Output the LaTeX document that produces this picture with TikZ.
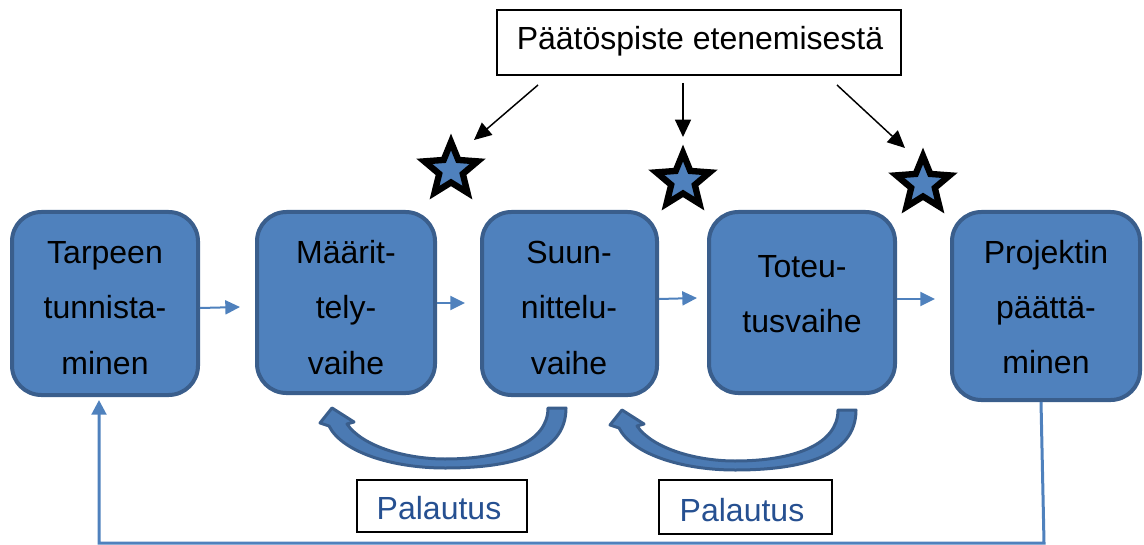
\documentclass[tikz,border=0pt]{standalone}
\usepackage{fontspec}
\setmainfont{Liberation Sans}
\usetikzlibrary{arrows.meta,shapes.geometric}
\definecolor{boxfill}{RGB}{79,129,189}
\definecolor{boxline}{RGB}{58,94,140}
\definecolor{paltext}{RGB}{38,80,145}
\begin{document}
\begin{tikzpicture}[x=0.75pt,y=-0.75pt,
  phase/.style={rectangle,draw=boxline,fill=boxfill,line width=3pt,rounded corners=22pt,inner sep=0pt},
  lbl/.style={font=\fontsize{24}{28}\selectfont,anchor=base,inner sep=0pt},
  pal/.style={lbl,text=paltext},
  flow/.style={draw=boxfill,line width=1.5pt,-{Triangle[length=11pt,width=10.5pt]}},
  pick/.style={draw=black,line width=1.1pt,-{Triangle[length=13pt,width=12pt]}},
  milestone/.style={star,star points=5,star point ratio=2.25,minimum size=42pt,inner sep=0pt,draw=black,line width=4.75pt,miter limit=3,fill=boxfill},
  note/.style={rectangle,draw=black,line width=0.9pt,fill=white,inner sep=0pt},
  backarrow/.style={fill=boxfill!80!boxline,draw=boxline,line width=2.25pt,line join=round},
  feedback/.style={draw=boxfill,line width=2.25pt,-{Triangle[length=11pt,width=11pt]}}]

\useasboundingbox (0,0) rectangle (1144,545);

% phase boxes
\node[phase,minimum width=139.5pt,minimum height=137.25pt] (b1) at (105,303.5) {};
\node[phase,minimum width=133.5pt,minimum height=135.75pt] (b2) at (346,302.5) {};
\node[phase,minimum width=131.25pt,minimum height=137.25pt] (b3) at (569.5,303.5) {};
\node[phase,minimum width=139.5pt,minimum height=135.75pt] (b4) at (802,302.5) {};
\node[phase,minimum width=141pt,minimum height=141pt] (b5) at (1046,306) {};

% phase texts
\node[lbl] (t1a) at (105,263) {Tarpeen};
\node[lbl] (t1b) at (105,318) {tunnista-};
\node[lbl] (t1c) at (105,374) {minen};
\node[lbl] (t2a) at (346,263) {Määrit-};
\node[lbl] (t2b) at (346,318) {tely-};
\node[lbl] (t2c) at (346,374) {vaihe};
\node[lbl] (t3a) at (569,263) {Suun-};
\node[lbl] (t3b) at (569,318) {nittelu-};
\node[lbl] (t3c) at (569,374) {vaihe};
\node[lbl] (t4a) at (802,277) {Toteu-};
\node[lbl] (t4b) at (802,332) {tusvaihe};
\node[lbl] (t5a) at (1046,263) {Projektin};
\node[lbl] (t5b) at (1046,318) {päättä-};
\node[lbl] (t5c) at (1046,373) {minen};

% forward arrows
\coordinate (f1) at (240,307);
\coordinate (f2) at (465,303);
\coordinate (f3) at (697,298);
\coordinate (f4) at (935,299);
\draw[flow] (b1.east |- 0,308) -- (f1);
\draw[flow] (b2.east |- f2) -- (f2);
\draw[flow] (b3.east |- 0,299) -- (f3);
\draw[flow] (b4.east |- f4) -- (f4);

% decision point box
\node[note,minimum width=303pt,minimum height=48.75pt] (top) at (699,42.5) {};
\node[lbl] (toptxt) at (700,50) {Päätöspiste etenemisestä};

% stars
\node[milestone] (s1) at (451,170) {};
\node[milestone] (s2) at (683,181) {};
\node[milestone] (s3) at (923,184) {};

% black arrows
\coordinate (a1s) at (538,85);
\coordinate (a1e) at (474,140);
\coordinate (a2s) at (683,83);
\coordinate (a2e) at (683,137);
\coordinate (a3s) at (837,85);
\coordinate (a3e) at (905,148);
\draw[pick] (a1s) -- (a1e);
\draw[pick] (a2s) -- (a2e);
\draw[pick] (a3s) -- (a3e);

% curved return arrows
\filldraw[backarrow] (566,408) .. controls (566,455) and (510,468) .. (445,468)
  .. controls (392,468) and (342,452) .. (329,426) -- (320,423) -- (332,408) -- (354,422) -- (347,424)
  .. controls (362,446) and (405,459) .. (445,459)
  .. controls (505,459) and (548,442) .. (548,408) -- cycle;
\filldraw[backarrow,shift={(290,2)}] (566,408) .. controls (566,455) and (510,468) .. (445,468)
  .. controls (392,468) and (342,452) .. (329,426) -- (320,423) -- (332,408) -- (354,422) -- (347,424)
  .. controls (362,446) and (405,459) .. (445,459)
  .. controls (505,459) and (548,442) .. (548,408) -- cycle;

% Palautus boxes
\node[note,minimum width=127.5pt,minimum height=39pt] (p1) at (442,506) {};
\node[pal] (p1t) at (439,519) {Palautus};
\node[note,minimum width=129.75pt,minimum height=40.5pt] (p2) at (745.5,507) {};
\node[pal] (p2t) at (742,521) {Palautus};

% feedback line
\coordinate (c1) at (1044,543);
\coordinate (c2) at (99,543);
\coordinate (c3) at (99,400);
\draw[feedback] ([xshift=-3.75pt]b5.south) -- (c1) -- (c2) -- (c3);
\end{tikzpicture}
\end{document}
